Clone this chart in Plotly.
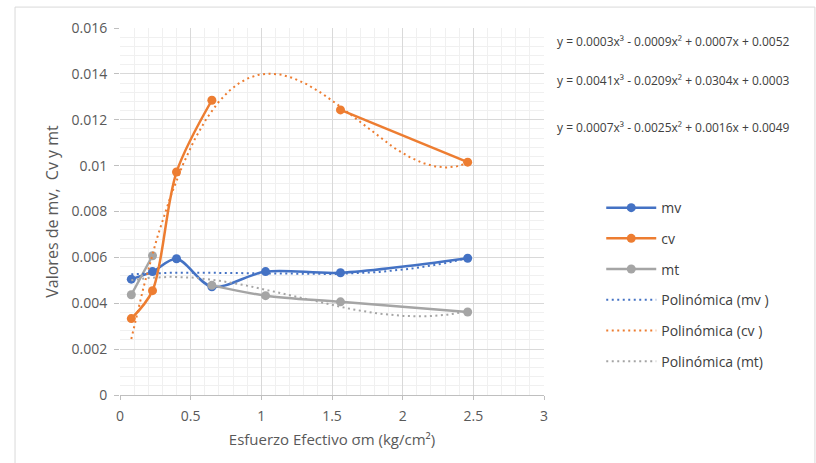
import numpy as np
import plotly.graph_objects as go

# Esfuerzo efectivo (kg/cm²)
esfuerzo = [0.08, 0.23, 0.40, 0.65, 1.03, 1.56, 2.46]

# Parámetros de consolidación (None = sin lectura)
mv = [0.00505, 0.00538, 0.00594, 0.00472, 0.00538, 0.00533, 0.00596]
cv = [0.00333, 0.00455, 0.00972, 0.01285, None, 0.01243, 0.01015]
mt = [0.00437, 0.00607, None, 0.00478, 0.00433, 0.00406, 0.00362]

ecuaciones = [
    "y = 0.0003x³ - 0.0009x² + 0.0007x + 0.0052",
    "y = 0.0041x³ - 0.0209x² + 0.0304x + 0.0003",
    "y = 0.0007x³ - 0.0025x² + 0.0016x + 0.0049",
]

AZUL = "#4472C4"
NARANJA = "#ED7D31"
GRIS = "#A5A5A5"
FONT = "Open Sans, Lato, sans-serif"

fig = go.Figure()

series = [("mv", mv, AZUL), ("cv", cv, NARANJA), ("mt", mt, GRIS)]

for i, (nombre, ys, color) in enumerate(series):
    fig.add_trace(go.Scatter(
        x=esfuerzo, y=ys, name=nombre, mode="lines+markers",
        line=dict(color=color, width=2.5, shape="spline", smoothing=0.9),
        marker=dict(color=color, size=9),
        connectgaps=False,
        legendgroup=f"g{i}", legendrank=i + 1,
    ))

# Líneas de tendencia polinómicas de grado 3
nombres_tend = ["Polinómica (mv )", "Polinómica (cv )", "Polinómica (mt)"]
for i, (nombre, ys, color) in enumerate(series):
    pares = [(x, y) for x, y in zip(esfuerzo, ys) if y is not None]
    xs = np.array([p[0] for p in pares])
    yv = np.array([p[1] for p in pares])
    coef = np.polyfit(xs, yv, 3)
    xt = np.linspace(xs.min(), xs.max(), 200)
    fig.add_trace(go.Scatter(
        x=xt, y=np.polyval(coef, xt), name=nombres_tend[i], mode="lines",
        line=dict(color=color, width=2, dash="2px,3.5px"),
        legendgroup=f"t{i}", legendrank=i + 4, hoverinfo="skip",
    ))

# Ecuaciones de las tendencias
for texto, yp in zip(ecuaciones, [0.962, 0.856, 0.730]):
    fig.add_annotation(
        x=1.026, y=yp, xref="paper", yref="paper", text=texto,
        showarrow=False, xanchor="left", yanchor="middle",
        font=dict(family=FONT, size=12, color="#404040"),
    )

# Borde del área del gráfico
fig.add_shape(
    type="rect", xref="paper", yref="paper",
    x0=-0.2476, x1=1.639, y0=-0.25, y1=1.057,
    line=dict(color="#D9D9D9", width=1), fillcolor="rgba(0,0,0,0)", layer="below",
)

fig.update_layout(
    width=816, height=463,
    margin=dict(l=120, r=272, t=28, b=68),
    paper_bgcolor="white", plot_bgcolor="white",
    font=dict(family=FONT, size=14, color="#595959"),
    showlegend=True,
    legend=dict(
        x=1.135, y=0.301, xanchor="left", yanchor="middle",
        traceorder="grouped", tracegroupgap=9.5, itemwidth=50,
        font=dict(family=FONT, size=14, color="#404040"),
        bgcolor="rgba(0,0,0,0)",
    ),
    xaxis=dict(
        range=[0, 3], dtick=0.5, tickformat="~g",
        showgrid=True, gridcolor="#D9D9D9", gridwidth=1,
        minor=dict(dtick=0.1, showgrid=True, gridcolor="#F0F0F0", gridwidth=1),
        showline=True, linecolor="#BFBFBF", linewidth=1,
        ticks="outside", ticklen=4, tickcolor="#BFBFBF",
        ticklabelstandoff=4,
        zeroline=False,
        title=dict(text="Esfuerzo Efectivo σm (kg/cm²)", standoff=10,
                   font=dict(family=FONT, size=15, color="#595959")),
    ),
    yaxis=dict(
        range=[0, 0.016], dtick=0.002, tickformat="~g",
        showgrid=True, gridcolor="#D9D9D9", gridwidth=1,
        minor=dict(dtick=0.0004, showgrid=True, gridcolor="#F0F0F0", gridwidth=1),
        showline=False, zeroline=False,
        ticks="outside", ticklen=5, tickcolor="#BFBFBF",
        ticklabelstandoff=4,
        title=dict(text="Valores de mv,\u00a0 Cv y mt", standoff=8,
                   font=dict(family=FONT, size=16, color="#595959")),
    ),
)

fig.write_html("out.html")
